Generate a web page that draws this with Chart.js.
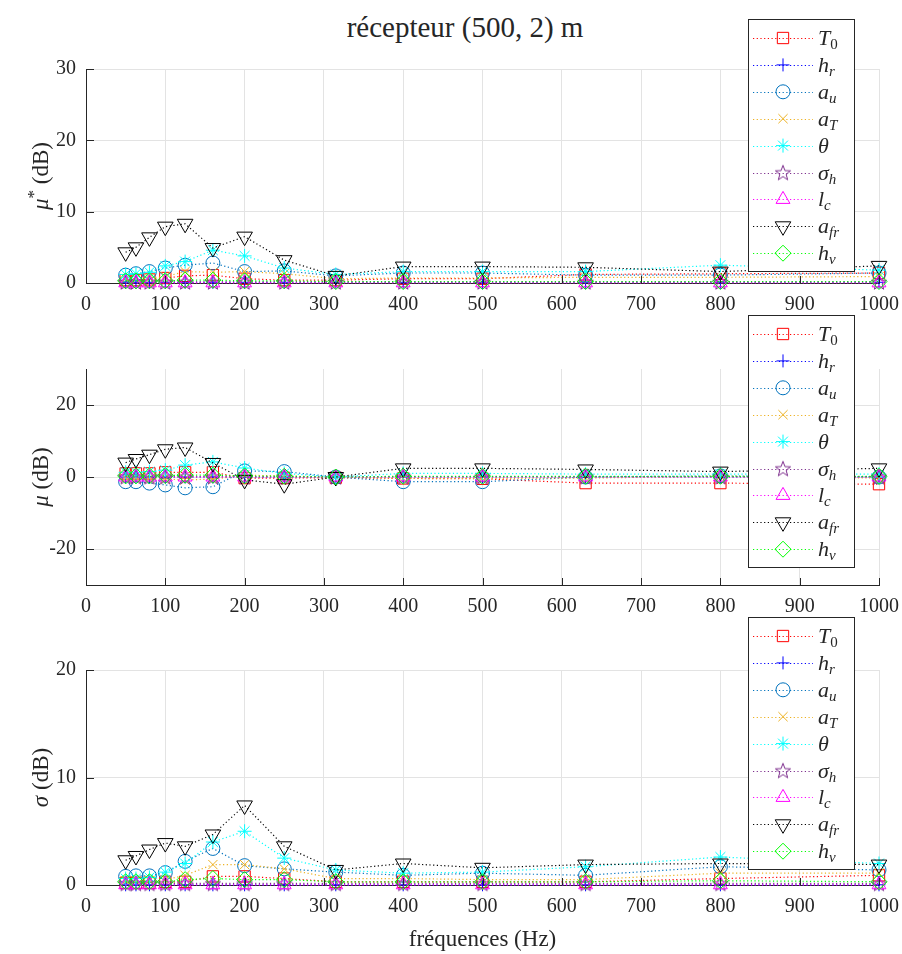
<!DOCTYPE html>
<html>
<head>
<meta charset="utf-8">
<script src="https://cdn.jsdelivr.net/npm/chart.js@4.4.0/dist/chart.umd.min.js"></script>
<style>
  body { margin: 0; background: #fff; width: 902px; height: 954px; position: relative; overflow: hidden; font-family: "Liberation Serif", serif; color: #262626; }
  canvas { position: absolute; left: 0; }
  #title { position: absolute; top: 10px; left: 0; width: 930px; text-align: center; font-size: 29px; line-height: 34px; }
</style>
</head>
<body>
<div id="title">récepteur (500, 2) m</div>
<canvas id="c1" width="902" height="312" style="top:0px"></canvas>
<canvas id="c2" width="902" height="302" style="top:312px"></canvas>
<canvas id="c3" width="902" height="340" style="top:614px"></canvas>
<script>
const freqs = [50, 63, 80, 100, 125, 160, 200, 250, 315, 400, 500, 630, 800, 1000];
const xTicks = [0, 100, 200, 300, 400, 500, 600, 700, 800, 900, 1000];
const yTicksMuStar = [0, 10, 20, 30];
const yTicksMu = [-20, 0, 20];
const yTicksSigma = [0, 10, 20];

// mu* (dB)
const muStarT0     = [0.4, 0.4, 0.5, 0.7, 1.0, 1.1, 0.6, 0.4, 0.4, 0.6, 0.6, 1.2, 1.3, 1.4];
const muStarHr     = [0.1, 0.1, 0.1, 0.1, 0.1, 0.1, 0.1, 0.1, 0.1, 0.1, 0.1, 0.1, 0.1, 0.1];
const muStarAu     = [1.1, 1.3, 1.6, 2.1, 2.5, 2.8, 1.6, 1.7, 1.0, 1.4, 1.4, 1.1, 1.1, 1.4];
const muStarAT     = [0.6, 0.6, 0.7, 0.9, 1.6, 1.5, 1.6, 1.3, 0.6, 0.7, 0.7, 0.8, 0.8, 0.9];
const muStarTheta  = [1.2, 1.3, 1.5, 2.4, 3.0, 4.6, 3.8, 2.1, 1.2, 1.6, 1.6, 1.6, 2.5, 1.8];
const muStarSigmaH = [0.15, 0.15, 0.15, 0.15, 0.15, 0.15, 0.15, 0.15, 0.15, 0.15, 0.15, 0.15, 0.15, 0.15];
const muStarLc     = [0.02, 0.02, 0.02, 0.02, 0.02, 0.02, 0.02, 0.02, 0.02, 0.02, 0.02, 0.02, 0.02, 0.02];
const muStarAfr    = [4.3, 5.0, 6.4, 7.9, 8.3, 4.9, 6.5, 3.2, 1.0, 2.3, 2.3, 2.2, 1.6, 2.4];
const muStarHv     = [0.3, 0.3, 0.3, 0.3, 0.4, 0.4, 0.3, 0.3, 0.2, 0.2, 0.2, 0.2, 0.2, 0.2];

// mu (dB)
const muT0     = [1.0, 1.0, 1.0, 1.3, 1.3, 1.3, -0.3, -0.3, -0.2, -0.4, -0.5, -1.7, -1.7, -2.0];
const muHr     = [0.0, 0.0, 0.0, 0.0, 0.0, 0.0, 0.0, 0.0, 0.0, 0.0, 0.0, 0.0, 0.0, 0.0];
const muAu     = [-1.3, -1.3, -1.7, -2.2, -3.0, -2.7, 1.7, 1.5, 0.0, -1.3, -1.3, 0.0, 0.3, 0.0];
const muAT     = [-0.4, -0.4, -0.5, -0.6, -0.8, -0.6, 0.5, 0.3, 0.0, -0.4, -0.4, -0.3, 0.2, -0.3];
const muTheta  = [1.3, 1.3, 1.5, 1.9, 3.3, 4.2, 2.5, 1.0, 0.0, 1.0, 1.0, 0.8, 0.8, 0.8];
const muSigmaH = [0.1, 0.1, 0.1, 0.1, 0.1, 0.1, 0.1, 0.1, 0.0, 0.1, 0.1, 0.1, 0.1, 0.1];
const muLc     = [0.0, 0.0, 0.0, 0.0, 0.0, 0.0, 0.0, 0.0, 0.0, 0.0, 0.0, 0.0, 0.0, 0.0];
const muAfr    = [4.0, 5.0, 6.2, 7.7, 8.2, 3.9, -0.8, -2.0, 0.0, 2.4, 2.4, 2.1, 1.5, 2.4];
const muHv     = [0.3, 0.3, 0.3, 0.4, 0.5, 0.5, 0.3, 0.2, 0.0, 0.2, 0.2, 0.2, 0.2, 0.2];

// sigma (dB)
const sigmaT0     = [0.2, 0.2, 0.2, 0.3, 0.3, 0.8, 0.8, 0.6, 0.3, 0.3, 0.3, 0.3, 0.6, 0.9];
const sigmaHr     = [0.02, 0.02, 0.02, 0.02, 0.02, 0.02, 0.02, 0.02, 0.02, 0.02, 0.02, 0.02, 0.02, 0.02];
const sigmaAu     = [0.8, 0.85, 0.85, 1.15, 2.2, 3.4, 1.8, 1.5, 1.2, 0.9, 1.1, 0.9, 1.7, 1.4];
const sigmaAT     = [0.4, 0.4, 0.4, 0.5, 0.9, 1.9, 1.9, 1.5, 0.6, 0.6, 0.5, 0.5, 1.1, 1.1];
const sigmaTheta  = [0.6, 0.6, 0.7, 1.2, 2.0, 4.0, 5.0, 2.5, 1.4, 1.1, 1.2, 1.7, 2.6, 2.0];
const sigmaSigmaH = [0.15, 0.15, 0.15, 0.15, 0.15, 0.15, 0.15, 0.15, 0.15, 0.15, 0.15, 0.15, 0.15, 0.15];
const sigmaLc     = [0.02, 0.02, 0.02, 0.02, 0.02, 0.02, 0.02, 0.02, 0.02, 0.02, 0.02, 0.02, 0.02, 0.02];
const sigmaAfr    = [2.3, 2.7, 3.3, 3.9, 3.6, 4.7, 7.4, 3.6, 1.4, 2.0, 1.6, 1.9, 2.0, 1.9];
const sigmaHv     = [0.3, 0.3, 0.3, 0.3, 0.5, 0.6, 0.5, 0.5, 0.3, 0.3, 0.3, 0.3, 0.4, 0.3];

// legend labels: [main, subscript, subscript italic]
const legendLabels = [
  ['T', '0', false], ['h', 'r', true], ['a', 'u', true], ['a', 'T', true], ['θ', '', false],
  ['σ', 'h', true], ['l', 'c', true], ['a', 'fr', true], ['h', 'v', true]
];

const FONT = '"Liberation Serif", serif';
const AXIS = '#262626';

// pentagram marker (no built-in one)
function pentagram(color) {
  const c = document.createElement('canvas');
  c.width = 18; c.height = 18;
  const g = c.getContext('2d');
  g.strokeStyle = color; g.lineWidth = 1;
  g.beginPath();
  for (let k = 0; k < 10; k++) {
    const r = k % 2 === 0 ? 8 : 3.3;
    const a = -Math.PI / 2 + k * Math.PI / 5;
    const px = 9 + r * Math.cos(a), py = 9.8 + r * Math.sin(a);
    k === 0 ? g.moveTo(px, py) : g.lineTo(px, py);
  }
  g.closePath(); g.stroke();
  return c;
}

const seriesStyle = [
  { color: '#ff0000', point: 'rect', r: 8, rot: 0 },
  { color: '#0000ff', point: 'cross', r: 6.5, rot: 0 },
  { color: '#0072bd', point: 'circle', r: 7, rot: 0 },
  { color: '#edb120', point: 'crossRot', r: 6.5, rot: 0 },
  { color: '#00ffff', point: 'star', r: 7, rot: 0 },
  { color: '#7e2f8e', point: pentagram('#7e2f8e'), r: 8, rot: 0 },
  { color: '#ff00ff', point: 'triangle', r: 8, rot: 0 },
  { color: '#000000', point: 'triangle', r: 9, rot: 180 },
  { color: '#00ff00', point: 'rectRot', r: 8, rot: 0 }
];

function drawRich(ctx, parts, x, y) {
  // parts: [text, style, size, dy]; x is left
  let cx = x;
  parts.forEach(p => {
    ctx.font = p[1] + ' ' + p[2] + 'px ' + FONT;
    ctx.fillText(p[0], cx, y + p[3]);
    cx += ctx.measureText(p[0]).width;
  });
  return cx - x;
}
function richWidth(ctx, parts) {
  let w = 0;
  parts.forEach(p => { ctx.font = p[1] + ' ' + p[2] + 'px ' + FONT; w += ctx.measureText(p[0]).width; });
  return w;
}

const figurePlugin = {
  id: 'figure',
  afterDraw(chart, args, opts) {
    const ctx = chart.ctx, area = chart.chartArea;
    const xs = chart.scales.x, ys = chart.scales.y;
    ctx.save();
    // inward tick marks
    ctx.strokeStyle = AXIS; ctx.lineWidth = 1;
    ctx.beginPath();
    xs.ticks.forEach(t => {
      const px = Math.round(xs.getPixelForValue(t.value)) + 0.5;
      ctx.moveTo(px, area.bottom); ctx.lineTo(px, area.bottom - 7);
    });
    ys.ticks.forEach(t => {
      const py = Math.round(ys.getPixelForValue(t.value)) + 0.5;
      ctx.moveTo(area.left, py); ctx.lineTo(area.left + 8, py);
    });
    ctx.stroke();

    // y axis title
    ctx.fillStyle = AXIS;
    ctx.textBaseline = 'middle';
    ctx.textAlign = 'left';
    const yw = richWidth(ctx, opts.yLabel);
    ctx.save();
    ctx.translate(opts.yLabelX, (area.top + area.bottom) / 2);
    ctx.rotate(-Math.PI / 2);
    drawRich(ctx, opts.yLabel, -yw / 2, 0);
    ctx.restore();

    // x axis title
    if (opts.xLabel) {
      ctx.font = '23px ' + FONT;
      ctx.textAlign = 'center';
      ctx.fillText(opts.xLabel, (area.left + area.right) / 2, opts.xLabelY);
      ctx.textAlign = 'left';
    }

    // legend box
    const bx = 748, by = opts.legendTop, bw = 106, bh = 252;
    ctx.fillStyle = '#ffffff';
    ctx.fillRect(bx, by, bw, bh);
    ctx.strokeStyle = AXIS;
    ctx.strokeRect(bx + 0.5, by + 0.5, bw, bh);
    chart.data.datasets.forEach((ds, i) => {
      const cy = by + 19 + i * 26.9;
      const st = seriesStyle[i];
      ctx.save();
      ctx.strokeStyle = st.color;
      ctx.lineWidth = 1.2;
      ctx.setLineDash([1.2, 2.5]);
      ctx.beginPath();
      ctx.moveTo(bx + 5, Math.round(cy) + 0.5);
      ctx.lineTo(bx + 65, Math.round(cy) + 0.5);
      ctx.stroke();
      ctx.setLineDash([]);
      ctx.lineWidth = 1;
      ctx.fillStyle = 'rgba(0,0,0,0)';
      Chart.helpers.drawPoint(ctx, { pointStyle: st.point, radius: st.r, rotation: st.rot, borderWidth: 1 }, bx + 35, cy);
      ctx.restore();
      const lab = legendLabels[i];
      ctx.fillStyle = AXIS;
      ctx.textBaseline = 'alphabetic';
      const parts = [[lab[0], 'italic', 22, 0]];
      if (lab[1]) parts.push([lab[1], lab[2] ? 'italic' : 'normal', 15, 4]);
      drawRich(ctx, parts, bx + 70, cy + 7);
    });
    ctx.restore();
  }
};

function makeChart(id, values, yTicks, yMin, yMax, padTop, xHeight, fig) {
  const datasets = values.map((vals, i) => ({
    data: freqs.map((f, j) => ({ x: f, y: vals[j] })),
    borderColor: seriesStyle[i].color,
    backgroundColor: 'rgba(0,0,0,0)',
    borderWidth: 1.2,
    borderDash: [1.2, 2.5],
    pointStyle: seriesStyle[i].point,
    pointRadius: seriesStyle[i].r,
    pointRotation: seriesStyle[i].rot,
    pointBorderColor: seriesStyle[i].color,
    pointBackgroundColor: 'rgba(0,0,0,0)',
    pointBorderWidth: 1,
    tension: 0,
    clip: false,
    order: values.length - i
  }));
  return new Chart(document.getElementById(id), {
    type: 'line',
    data: { datasets },
    plugins: [figurePlugin],
    options: {
      responsive: false,
      animation: false,
      events: [],
      layout: { padding: { top: padTop, right: 23, left: 0, bottom: 0 } },
      plugins: { legend: { display: false }, tooltip: { enabled: false }, figure: fig },
      scales: {
        x: {
          type: 'linear', min: 0, max: 1000,
          afterBuildTicks: s => { s.ticks = xTicks.map(v => ({ value: v })); },
          afterFit: s => { s.height = xHeight; s.paddingLeft = 0; s.paddingRight = 0; },
          ticks: { color: AXIS, font: { family: FONT, size: 20 }, padding: 10, maxRotation: 0, callback: v => String(v) },
          grid: { color: '#e3e3e3', drawTicks: false },
          border: { color: AXIS, width: 1 }
        },
        y: {
          type: 'linear', min: yMin, max: yMax,
          afterBuildTicks: s => { s.ticks = yTicks.map(v => ({ value: v })); },
          afterFit: s => { s.width = 86; s.paddingTop = 0; s.paddingBottom = 0; },
          ticks: { color: AXIS, font: { family: FONT, size: 20 }, padding: 10, callback: v => String(v) },
          grid: { color: '#e3e3e3', drawTicks: false },
          border: { color: AXIS, width: 1 }
        }
      }
    }
  });
}

makeChart('c1',
  [muStarT0, muStarHr, muStarAu, muStarAT, muStarTheta, muStarSigmaH, muStarLc, muStarAfr, muStarHv],
  yTicksMuStar, 0, 30, 69, 29,
  { legendTop: 19, yLabelX: 42, yLabel: [['μ', 'italic', 23, 0], ['*', 'normal', 17, -7], [' (dB)', 'normal', 23, 0]] });

makeChart('c2',
  [muT0, muHr, muAu, muAT, muTheta, muSigmaH, muLc, muAfr, muHv],
  yTicksMu, -30, 30, 57, 29,
  { legendTop: 3, yLabelX: 42, yLabel: [['μ', 'italic', 23, 0], [' (dB)', 'normal', 23, 0]] });

makeChart('c3',
  [sigmaT0, sigmaHr, sigmaAu, sigmaAT, sigmaTheta, sigmaSigmaH, sigmaLc, sigmaAfr, sigmaHv],
  yTicksSigma, 0, 20, 56, 69,
  { legendTop: 3, yLabelX: 42, yLabel: [['σ', 'italic', 23, 0], [' (dB)', 'normal', 23, 0]],
    xLabel: 'fréquences (Hz)', xLabelY: 326 });
</script>
</body>
</html>
